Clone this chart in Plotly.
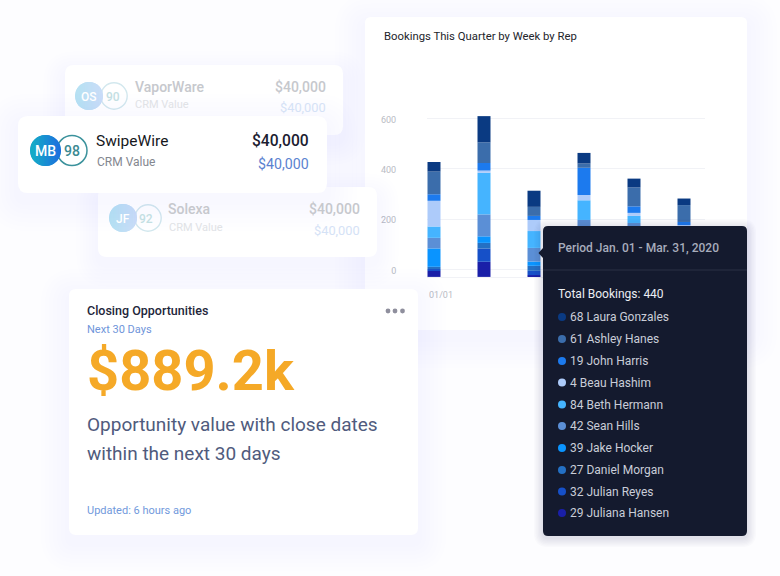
import plotly.graph_objects as go

W, H = 780, 576

WEEKS = ["01/01", "01/08", "01/15", "01/22", "01/29", "02/05"]
Y_TICKS = [0, 200, 400, 600]
REPS = ["Laura Gonzales", "Ashley Hanes", "John Harris", "Beau Hashim", "Beth Hermann",
        "Sean Hills", "Jake Hocker", "Daniel Morgan", "Julian Reyes", "Juliana Hansen"]
TOOLTIP_VALUES = [68, 61, 19, 4, 84, 42, 39, 27, 32, 29]
REP_COLORS = ["#0a3a82", "#3b6dab", "#1c7aee", "#adcbfa", "#45b4ff",
              "#5b8fd6", "#0a94ff", "#2470c4", "#1650c8", "#1a1fa8"]
LAURA = [38, 104, 64, 42, 35, 26]
ASHLEY = [90, 82, 36, 17, 75, 67]
JOHN = [26, 30, 16, 108, 26, 12]
BEAU = [102, 9, 44, 21, 12, 20]
BETH = [45, 165, 67, 78, 28, 60]
SEAN = [42, 87, 54, 45, 50, 40]
JAKE = [73, 26, 17, 60, 55, 30]
DANIEL = [9, 22, 20, 30, 30, 20]
JULIAN = [7, 53, 17, 40, 40, 20]
JULIANA = [24, 60, 7, 51, 39, 16]
SERIES = [LAURA, ASHLEY, JOHN, BEAU, BETH, SEAN, JAKE, DANIEL, JULIAN, JULIANA]
BAR_BASE = -29

FONT = "Roboto"


def px(x):
    return x / W


def py(y):
    return 1 - y / H


def round_rect(x0, y0, x1, y1, r):
    pts = [
        f"M{px(x0 + r)},{py(y0)}", f"L{px(x1 - r)},{py(y0)}", f"Q{px(x1)},{py(y0)} {px(x1)},{py(y0 + r)}",
        f"L{px(x1)},{py(y1 - r)}", f"Q{px(x1)},{py(y1)} {px(x1 - r)},{py(y1)}",
        f"L{px(x0 + r)},{py(y1)}", f"Q{px(x0)},{py(y1)} {px(x0)},{py(y1 - r)}",
        f"L{px(x0)},{py(y0 + r)}", f"Q{px(x0)},{py(y0)} {px(x0 + r)},{py(y0)}", "Z",
    ]
    return " ".join(pts)


shapes = []
annotations = []


def add_path(path, fill, layer="above", opacity=1.0):
    shapes.append(dict(type="path", path=path, xref="paper", yref="paper", fillcolor=fill,
                       line=dict(width=0), layer=layer, opacity=opacity))


def card(x0, y0, x1, y1, r=8, layer="above", spread=26, alpha=0.012, offset=8, shadow="#5a64c8"):
    for i in range(7):
        s = spread * (7 - i) / 7
        add_path(round_rect(x0 - s, y0 - s + offset, x1 + s, y1 + s + offset, r + s), shadow, layer, alpha)
    add_path(round_rect(x0, y0, x1, y1, r), "#ffffff", layer)


def circle(cx, cy, r, fill="rgba(0,0,0,0)", line=None, lw=0, layer="above"):
    shapes.append(dict(type="circle", xref="paper", yref="paper", x0=px(cx - r), x1=px(cx + r),
                       y0=py(cy + r), y1=py(cy - r), fillcolor=fill, layer=layer,
                       line=dict(color=line or "rgba(0,0,0,0)", width=lw)))


def _mix(a, b, t):
    ca = [int(a[i:i + 2], 16) for i in (1, 3, 5)]
    cb = [int(b[i:i + 2], 16) for i in (1, 3, 5)]
    return "#" + "".join(f"{round(u + (v - u) * t):02x}" for u, v in zip(ca, cb))


def gradient_disc(cx, cy, r, c0, c1, n=24):
    # vertical strips, each bounded by the circle, approximating the avatar gradient
    circle(cx, cy, r, fill=_mix(c0, c1, 0.5))
    for i in range(n):
        xa = -r + 2 * r * i / n
        xb = min(-r + 2 * r * (i + 1) / n + 0.3, r)
        ha = max(r * r - xa * xa, 0) ** 0.5
        hb = max(r * r - xb * xb, 0) ** 0.5
        path = (f"M{px(cx + xa)},{py(cy - ha)} L{px(cx + xb)},{py(cy - hb)} "
                f"L{px(cx + xb)},{py(cy + hb)} L{px(cx + xa)},{py(cy + ha)} Z")
        add_path(path, _mix(c0, c1, (i + 0.5) / n))


def text(x, y, s, size, color, anchor="left", weight=400):
    nudge = {"left": -1, "right": 1, "center": 0}[anchor]
    annotations.append(dict(xref="paper", yref="paper", x=px(x + nudge), y=py(y), text=s, showarrow=False,
                            xanchor=anchor, yanchor="middle", borderpad=0, align=anchor,
                            font=dict(family=FONT, size=size, color=color, weight=weight)))


# Chart card sits under the bars
card(365, 17, 747, 330, r=6, layer="below", spread=30, alpha=0.007)
text(384, 36.5, "Bookings This Quarter by Week by Rep", 11.3, "#23252b")

# VaporWare (faded)
card(65, 65, 343, 135, r=9, spread=22, alpha=0.005)
circle(114, 96, 13.2, fill="#ffffff", line="#d3e8ee", lw=1.4)
gradient_disc(89, 96, 14, "#b4e2f2", "#cbdcf8")
text(89, 96.5, "OS", 12, "#ffffff", "center", 500)
text(113, 96.5, "90", 12, "#c3dfe3", "center", 500)
text(135, 86.5, "VaporWare", 14, "#c6c8cd", weight=500)
text(135, 105, "CRM Value", 11, "#e0e2e6")
text(326, 86.5, "$40,000", 14, "#c6c8cd", "right", 500)
text(326, 107.5, "$40,000", 12.8, "#d5e2f6", "right")

# Solexa (faded)
card(98, 187, 377, 257, r=9, spread=22, alpha=0.005)
circle(148, 218, 13.2, fill="#ffffff", line="#d3e8ee", lw=1.4)
gradient_disc(123, 218, 14, "#b4e2f2", "#cbdcf8")
text(123, 218.5, "JF", 12, "#ffffff", "center", 500)
text(146, 218.5, "92", 12, "#c3dfe3", "center", 500)
text(168, 209, "Solexa", 14, "#c6c8cd", weight=500)
text(169, 228, "CRM Value", 11, "#e0e2e6")
text(360, 209, "$40,000", 14, "#c6c8cd", "right", 500)
text(360, 230, "$40,000", 12.8, "#d5e2f6", "right")

# SwipeWire
card(18, 116, 327, 193, r=10, spread=30, alpha=0.008)
circle(72, 150.5, 15, fill="#ffffff", line="#3b929c", lw=1.5)
gradient_disc(45.5, 150.5, 15.5, "#14b3c4", "#1e6be0")
text(45.5, 151, "MB", 14, "#ffffff", "center", 500)
text(71.5, 151, "98", 14, "#3b8a92", "center", 500)
text(96, 141, "SwipeWire", 15.5, "#15171c")
text(97, 161.5, "CRM Value", 12, "#84878f")
text(309, 141, "$40,000", 15.6, "#1b2030", "right", 500)
text(309, 164, "$40,000", 14.2, "#5b82d0", "right")

# Closing Opportunities
card(69, 289, 418, 535, r=7, spread=28, alpha=0.007)
text(87, 310.5, "Closing Opportunities", 12.5, "#23263a", weight=500)
text(87, 329, "Next 30 Days", 11, "#6f95da")
text(87, 371, "$889.2k", 56, "#f5a927", weight=700)
text(87, 424.5, "Opportunity value with close dates", 19, "#505b7d")
text(87, 453, "within the next 30 days", 19, "#505b7d")
text(87, 510, "Updated: 6 hours ago", 11, "#7199dc")
for dot_x in (388, 395, 402.5):
    circle(dot_x, 311, 2.4, fill="#8f8f9d")

# Tooltip
card(543, 226, 747, 536, r=5, spread=9, alpha=0.018, offset=2, shadow="#1a2050")
add_path(f"M{px(543)},{py(248)} L{px(538.5)},{py(253)} L{px(543)},{py(258)} Z", "#141a2e")
add_path(round_rect(543, 226, 747, 536, 5), "#141a2e")
shapes.append(dict(type="line", xref="paper", yref="paper", x0=px(543), x1=px(747), y0=py(270), y1=py(270),
                   line=dict(color="#2b3145", width=1), layer="above"))
text(558, 248, "Period Jan. 01 - Mar. 31, 2020", 12, "#a7acbc", weight=500)
text(558, 293.5, "Total Bookings: 440", 12, "#eceef3")
ROW_Y = [317, 339, 361, 382.5, 404.5, 426, 448, 470, 491.5, 513]
for rep, val, col, row in zip(REPS, TOOLTIP_VALUES, REP_COLORS, ROW_Y):
    circle(562, row, 4, fill=col)
    text(570, row, f"{val} {rep}", 12, "#c9cdd8")

fig = go.Figure()
running = [BAR_BASE] * len(WEEKS)
for idx in range(len(REPS) - 1, -1, -1):
    fig.add_trace(go.Bar(x=WEEKS, y=SERIES[idx], base=list(running), name=REPS[idx],
                         marker=dict(color=REP_COLORS[idx], line=dict(width=0))))
    running = [b + v for b, v in zip(running, SERIES[idx])]

fig.update_layout(
    width=W, height=H, margin=dict(l=0, r=0, t=0, b=0, pad=0), autosize=False,
    paper_bgcolor="#fdfdff", plot_bgcolor="rgba(0,0,0,0)", barmode="overlay", bargap=0.74,
    showlegend=False, shapes=shapes, annotations=annotations, font=dict(family=FONT),
    xaxis=dict(domain=[px(427), px(705)], type="category", categoryorder="array", categoryarray=WEEKS,
               range=[-0.14, 5.42], tickmode="array", tickvals=WEEKS[:1], ticktext=WEEKS[:1],
               ticks="outside", ticklen=9, tickcolor="rgba(0,0,0,0)", ticklabelshift=7,
               tickfont=dict(size=9, color="#b9bcc4", family=FONT), showgrid=False, showline=True,
               linecolor="#f1f2f6", linewidth=1, zeroline=False, fixedrange=True),
    yaxis=dict(domain=[py(277), py(100)], range=[-29.4, 673], tickmode="array", tickvals=Y_TICKS,
               ticks="outside", ticklen=28, tickcolor="rgba(0,0,0,0)", ticklabelshift=1,
               tickfont=dict(size=9, color="#b9bcc4", family=FONT), gridcolor="#f1f2f6", gridwidth=1,
               zeroline=False, showline=False, fixedrange=True),
)
fig.write_html("out.html", config=dict(displayModeBar=False),
               post_script="document.body.style.margin='0';")
